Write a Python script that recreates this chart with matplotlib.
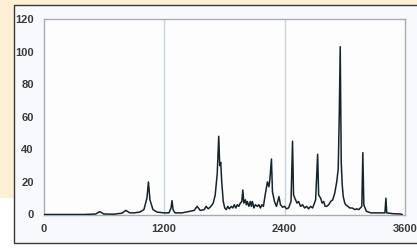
import matplotlib
matplotlib.use("Agg")
import matplotlib.pyplot as plt
from matplotlib.patches import Rectangle

# Spectrum trace
wavenumber = [0, 400, 520, 560, 600, 700, 780, 820, 860, 900, 960, 1000, 1030, 1045, 1060,
              1090, 1130, 1200, 1250, 1270, 1280, 1290, 1310, 1380, 1420, 1460, 1500, 1530,
              1560, 1600, 1620, 1640, 1660, 1690, 1710, 1730, 1745, 1755, 1765, 1775, 1790, 1805,
              1820, 1835, 1850, 1870, 1885, 1900, 1915, 1930, 1945, 1960, 1975, 1985, 1995, 2010,
              2020, 2030, 2045, 2060, 2070, 2080, 2095, 2110, 2130, 2145, 2160, 2175, 2190,
              2210, 2230, 2245, 2255, 2270, 2280, 2300, 2320, 2345, 2360, 2380, 2400, 2420,
              2440, 2465, 2480, 2490, 2510, 2525, 2540, 2560, 2580, 2600, 2620, 2640, 2660,
              2680, 2710, 2730, 2740, 2760, 2775, 2790, 2805, 2820, 2840, 2860, 2880, 2900,
              2920, 2935, 2945, 2955, 2965, 2975, 2985, 3000, 3010, 3030, 3050, 3075, 3100,
              3120, 3140, 3170, 3180, 3190, 3215, 3260, 3320, 3400, 3410, 3418, 3480, 3560, 3570]
intensity = [0, 0, 0.3, 1.8, 0.3, 0.2, 0.8, 2.5, 1, 1, 1.5, 3, 10, 20, 9,
             3, 1.5, 1, 1, 4, 8.5, 3, 1, 1, 1.5, 2, 2.5, 5,
             2.5, 3, 5, 3.5, 4.5, 7, 12, 25, 48, 30, 32, 20, 8, 4,
             3, 5, 3.5, 5, 4, 6, 4, 6, 5, 7, 8, 15, 7, 9,
             6, 8, 5, 8, 5, 8, 4, 6, 5, 6, 4, 6, 5,
             13, 20, 17, 22, 34, 14, 8, 5, 11, 6, 4.5, 5, 3.5,
             4, 8, 45, 12, 9, 7, 8, 5, 6, 4, 5, 3.5, 5,
             4, 9, 37, 12, 10, 7, 8, 5, 5, 6, 8, 9, 13,
             20, 28, 60, 103, 32, 18, 11, 7, 6, 5, 4, 4, 3,
             3.5, 3, 5, 38, 6, 2, 1, 1, 1, 10, 1, 0.5, 0.3, 0]

x_ticks = [0, 1200, 2400, 3600]
y_ticks = [0, 20, 40, 60, 80, 100, 120]

W, H = 417, 248
fig = plt.figure(figsize=(W / 100, H / 100), dpi=100)
fig.patch.set_facecolor("white")

# cream background and framed chart area
fig.patches.append(Rectangle((0, 1 - 198 / H), 1, 198 / H, transform=fig.transFigure,
                             facecolor="#fdefd6", edgecolor="none", zorder=0))
fig.patches.append(Rectangle((14 / W, 1 - 243 / H), (W + 5 - 14) / W, (243 - 4.5) / H,
                             transform=fig.transFigure, facecolor="#f8f9fc",
                             edgecolor="#3a3a3a", linewidth=1.0, zorder=1))

left, right, top, bottom = 43.5, 405, 19, 214.5
ax = fig.add_axes([left / W, 1 - bottom / H, (right - left) / W, (bottom - top) / H])
ax.set_facecolor("#fdfdfe")
ax.set_zorder(2)

for xv in x_ticks[1:-1]:
    ax.axvline(xv, color="#c9d5dd", linewidth=1.0, zorder=1)

ax.plot(wavenumber, intensity, color="#15242a", linewidth=1.1, zorder=3)

ax.set_xlim(0, 3600)
ax.set_ylim(0, 120)
ax.set_xticks(x_ticks)
ax.set_yticks(y_ticks)
ax.set_xticklabels([str(v) for v in x_ticks])
ax.set_yticklabels([str(v) for v in y_ticks])
ax.tick_params(length=0, labelsize=8, labelcolor="#3a3a3a", pad=7)
for lab in ax.get_xticklabels() + ax.get_yticklabels():
    lab.set_family(["Liberation Sans", "DejaVu Sans"])
    lab.set_fontweight("bold")
for s in ax.spines.values():
    s.set_color("#a3adb5")
    s.set_linewidth(1.0)

fig.savefig("out.png", dpi=100, facecolor=fig.get_facecolor())
